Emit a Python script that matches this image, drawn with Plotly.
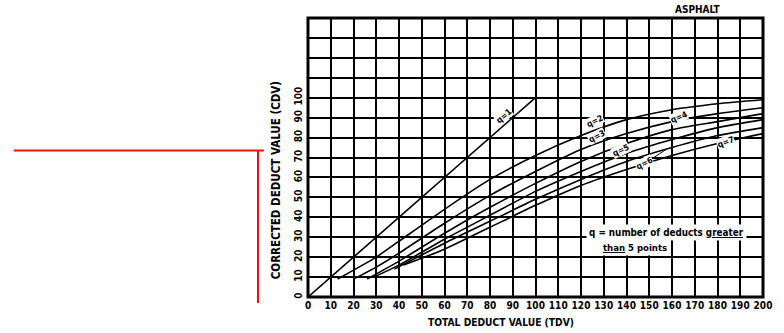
import plotly.graph_objects as go

# ---- data ----
tdv_q1 = [0, 100]
cdv_q1 = [0, 100]
tdv_q2 = [13, 30, 40, 60, 80, 100, 120, 140, 160, 180, 200]
cdv_q2 = [9, 20, 28, 44, 59, 71, 81, 89, 94, 97, 99]
tdv_q3 = [20, 30, 40, 60, 80, 100, 120, 140, 160, 180, 200]
cdv_q3 = [9, 15, 22, 37, 51, 63, 74, 82, 88, 92, 95]
tdv_q4 = [26, 40, 60, 80, 100, 120, 140, 160, 180, 200]
cdv_q4 = [9, 18, 32, 45, 57, 68, 77, 84, 88, 92]
tdv_q5 = [29, 40, 60, 80, 100, 120, 140, 160, 180, 200]
cdv_q5 = [10, 16, 29, 41, 53, 63, 72, 79, 85, 89]
tdv_q6 = [38, 60, 80, 100, 120, 140, 160, 180, 200]
cdv_q6 = [14, 27, 38, 49, 59, 68, 75, 81, 85]
tdv_q7 = [42, 60, 80, 100, 120, 140, 160, 180, 200]
cdv_q7 = [16, 24, 35, 46, 56, 64, 71, 77, 82]

x_ticks = list(range(0, 201, 10))
x_tick_labels = [str(v) for v in x_ticks]
y_ticks = list(range(0, 141, 10))
y_tick_labels = [str(v) if v <= 100 else "" for v in y_ticks]

series = [
    (tdv_q1, cdv_q1), (tdv_q2, cdv_q2), (tdv_q3, cdv_q3), (tdv_q4, cdv_q4),
    (tdv_q5, cdv_q5), (tdv_q6, cdv_q6), (tdv_q7, cdv_q7),
]

FONT = "DejaVu Sans Condensed, Liberation Sans Narrow, Arial Narrow, sans-serif"

fig = go.Figure()
for xs, ys in series:
    fig.add_trace(go.Scatter(x=xs, y=ys, mode="lines",
                             line=dict(color="black", width=1.6, shape="spline", smoothing=0.6),
                             hoverinfo="skip", showlegend=False))

# curve labels
labels = [
    ("q=1", 86, 91, -41),
    ("q=2", 126, 88.5, -27),
    ("q=3", 127, 81, -27),
    ("q=4", 163, 90.5, -22),
    ("q=5", 137.5, 74, -25),
    ("q=6", 148, 67, -27),
    ("q=7", 183.5, 78, -20),
]
for t, x, y, a in labels:
    fig.add_annotation(x=x, y=y, xref="x", yref="y", text="<b>" + t + "</b>", showarrow=False,
                       textangle=a, font=dict(family=FONT, size=8.5, color="black"),
                       bgcolor="white", borderpad=0)

fig.add_annotation(x=0.858, y=1.0, xref="paper", yref="paper", text="<b>ASPHALT</b>", showarrow=False,
                   xanchor="center", yanchor="bottom", yshift=1,
                   font=dict(family=FONT, size=10, color="black"))
fig.add_annotation(x=0.4246, y=-0.093, xref="paper", yref="paper",
                   text="<b>TOTAL DEDUCT VALUE (TDV)</b>", showarrow=False,
                   xanchor="center", yanchor="middle",
                   font=dict(family=FONT, size=10.2, color="black"))
fig.add_annotation(x=-0.070, y=0.419, xref="paper", yref="paper",
                   text="<b>CORRECTED DEDUCT VALUE (CDV)</b>", showarrow=False,
                   textangle=-90, xanchor="center", yanchor="middle",
                   font=dict(family=FONT, size=11.5, color="black"))
# note box
fig.add_annotation(x=122.3, y=32.3, xref="x", yref="y",
                   text="<b>q = number of deducts <u>greater</u></b>",
                   showarrow=False, xanchor="left", yanchor="middle",
                   font=dict(family=FONT, size=9.8, color="black"),
                   bgcolor="white", borderpad=2)
fig.add_annotation(x=128.5, y=25, xref="x", yref="y",
                   text="<b><u>than</u> 5 points</b>",
                   showarrow=False, xanchor="left", yanchor="middle",
                   font=dict(family=FONT, size=9.5, color="black"),
                   bgcolor="white", borderpad=2)

# q=6 leader
fig.add_shape(type="line", xref="x", yref="y", x0=152, y0=70, x1=158, y1=74.5,
              line=dict(color="black", width=1))

# plot border
fig.add_shape(type="rect", xref="paper", yref="paper", x0=0, y0=0, x1=1, y1=1,
              line=dict(color="black", width=3))

# red marker lines (outside the plot)
fig.add_shape(type="line", xref="paper", yref="paper",
              x0=(8 - 308) / 464, x1=(263 - 308) / 464, y0=(297 - 150.5) / 279, y1=(297 - 150.5) / 279,
              line=dict(color="#ee1111", width=2))
fig.add_shape(type="line", xref="paper", yref="paper",
              x0=(257 - 308) / 464, x1=(257 - 308) / 464, y0=(297 - 150.5) / 279, y1=(297 - 303) / 279,
              line=dict(color="#ee1111", width=2))

fig.update_xaxes(range=[0, 200], tickvals=x_ticks, ticktext=x_tick_labels,
                 showgrid=True, gridcolor="black", gridwidth=2, zeroline=False,
                 ticks="", tickfont=dict(family=FONT, size=10, color="black", weight="bold"),
                 tickangle=0, ticklabelstandoff=1)
fig.update_yaxes(range=[0, 140], tickvals=y_ticks, ticktext=y_tick_labels,
                 showgrid=True, gridcolor="black", gridwidth=2, zeroline=False,
                 ticks="", tickfont=dict(family=FONT, size=10, color="black", weight="bold"),
                 tickangle=-90, ticklabelstandoff=3)

fig.update_layout(width=784, height=333, margin=dict(l=308, r=12, t=18, b=36),
                  plot_bgcolor="white", paper_bgcolor="white",
                  font=dict(family=FONT, color="black"))

fig.write_html("out.html", config={"displayModeBar": False},
               post_script="document.body.style.margin='0';document.body.style.overflow='hidden';")
